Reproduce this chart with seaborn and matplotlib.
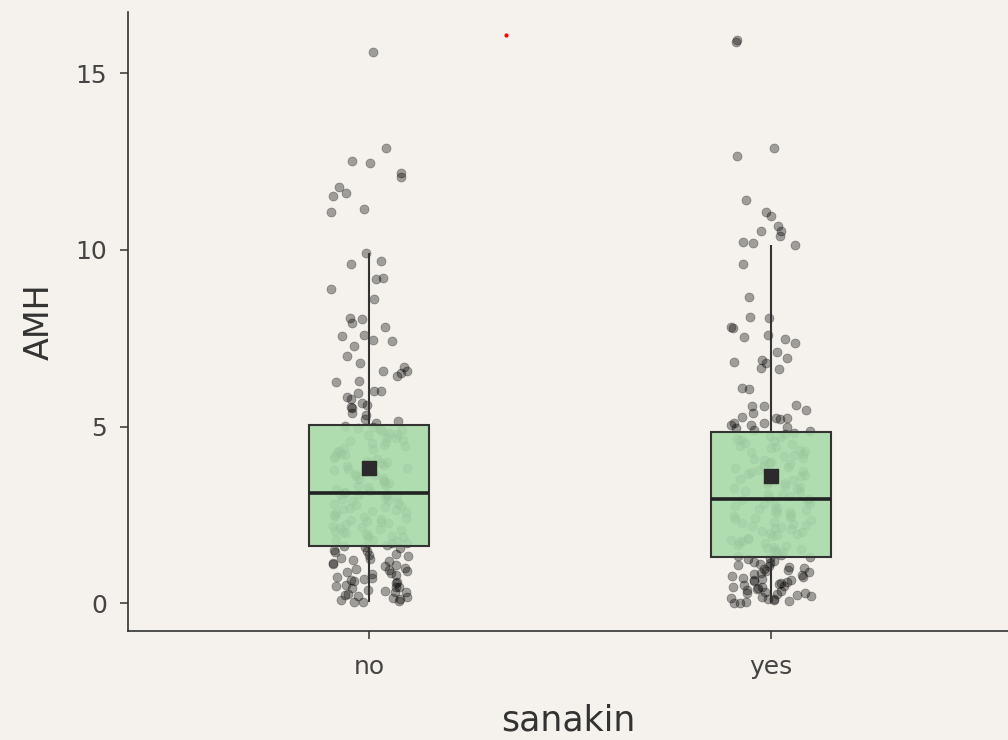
import numpy as np
import pandas as pd
import matplotlib
matplotlib.use("Agg")
import matplotlib.pyplot as plt
import seaborn as sns

categories = ["no", "yes"]

amh_no = [
    # above Q3
    15.6, 12.88, 12.5, 12.45, 12.17, 12.06, 11.77, 11.6, 11.52, 11.15, 11.07,
    9.9, 9.68, 9.6, 9.2, 9.17, 8.89, 8.6, 8.07, 8.04,
    7.93, 7.81, 7.59, 7.56, 7.44, 7.42, 7.27, 6.99, 6.79, 6.68,
    6.57, 6.57, 6.51, 6.42, 6.28, 6.26, 6.0, 6.0, 5.94, 5.83,
    5.66, 5.6, 5.55, 5.52, 5.32, 5.15, 5.09, 5.38, 5.78, 5.21,
    # median..Q3
    3.12, 3.16, 3.19, 3.24, 3.28, 3.31, 3.36, 3.4, 3.43, 3.47, 3.52, 3.55, 3.6,
    3.64, 3.67, 3.72, 3.76, 3.8, 3.83, 3.88, 3.91, 3.96, 4.0, 4.03, 4.08, 4.11,
    4.16, 4.2, 4.23, 4.28, 4.31, 4.36, 4.4, 4.44, 4.48, 4.52, 4.55, 4.6, 4.63,
    4.68, 4.71, 4.75, 4.79, 4.83, 4.86, 4.9, 4.93, 4.96, 4.99, 5.01,
    # Q1..median
    1.63, 1.66, 1.7, 1.71, 1.75, 1.78, 1.8, 1.84, 1.87, 1.9, 1.93, 1.95, 1.99,
    2.02, 2.05, 2.08, 2.1, 2.14, 2.17, 2.2, 2.23, 2.26, 2.3, 2.32, 2.35, 2.39,
    2.41, 2.45, 2.48, 2.5, 2.54, 2.57, 2.6, 2.63, 2.66, 2.7, 2.72, 2.76, 2.79,
    2.82, 2.85, 2.88, 2.92, 2.95, 2.98, 3.0, 3.03, 3.06, 3.08, 3.1,
    # below Q1
    0.03, 0.05, 0.07, 0.1, 0.12, 0.14, 0.18, 0.21, 0.24, 0.27, 0.31, 0.33, 0.36,
    0.38, 0.42, 0.45, 0.47, 0.5, 0.53, 0.57, 0.6, 0.62, 0.66, 0.69, 0.72, 0.75,
    0.79, 0.82, 0.86, 0.88, 0.91, 0.95, 0.98, 1.01, 1.05, 1.08, 1.12, 1.15, 1.19,
    1.22, 1.26, 1.29, 1.33, 1.36, 1.4, 1.44, 1.48, 1.52, 1.56, 1.6,
]

amh_yes = [
    # above Q3
    15.89, 15.92, 12.88, 12.65, 11.41, 11.07, 10.95, 10.67, 10.53, 10.53, 10.39,
    10.22, 10.2,
    10.13, 9.6, 8.66, 8.09, 8.07, 7.81, 7.78, 7.59, 7.53, 7.47,
    7.36, 7.1, 6.93, 6.88, 6.82, 6.79, 6.65, 6.62, 6.09, 6.06,
    5.6, 5.58, 5.58, 5.46, 5.38, 5.27, 5.24, 5.24, 5.2, 5.1,
    5.1, 5.04, 5.04, 5.0, 4.95, 4.9, 4.88,
    # median..Q3
    2.95, 2.99, 3.03, 3.07, 3.1, 3.14, 3.18, 3.22, 3.26, 3.29, 3.33, 3.37, 3.41,
    3.44, 3.48, 3.52, 3.56, 3.59, 3.63, 3.67, 3.71, 3.74, 3.78, 3.82, 3.86, 3.89,
    3.93, 3.97, 4.01, 4.04, 4.08, 4.12, 4.16, 4.19, 4.23, 4.27, 4.31, 4.34, 4.38,
    4.42, 4.46, 4.5, 4.54, 4.58, 4.62, 4.66, 4.7, 4.74, 4.79, 4.83,
    # Q1..median
    1.31, 1.34, 1.38, 1.41, 1.44, 1.47, 1.5, 1.53, 1.57, 1.6, 1.63, 1.66, 1.7,
    1.73, 1.76, 1.79, 1.83, 1.86, 1.89, 1.92, 1.96, 1.99, 2.02, 2.05, 2.09, 2.12,
    2.15, 2.18, 2.22, 2.25, 2.28, 2.31, 2.35, 2.38, 2.41, 2.44, 2.48, 2.51, 2.54,
    2.57, 2.61, 2.64, 2.67, 2.7, 2.74, 2.77, 2.8, 2.84, 2.88, 2.93,
    # below Q1
    0.0, 0.02, 0.04, 0.06, 0.09, 0.11, 0.13, 0.16, 0.18, 0.21, 0.23, 0.26, 0.28,
    0.3, 0.33, 0.35, 0.38, 0.4, 0.42, 0.45, 0.47, 0.5, 0.52, 0.55, 0.57, 0.6,
    0.62, 0.65, 0.67, 0.7, 0.72, 0.75, 0.77, 0.8, 0.83, 0.86, 0.88, 0.91, 0.94,
    0.97, 1.0, 1.03, 1.06, 1.09, 1.12, 1.15, 1.18, 1.21, 1.25, 1.28,
]

red_dot_x = [0.34]
red_dot_y = [16.08]

y_ticks = [0, 5, 10, 15]

df = pd.DataFrame({
    "sanakin": ["no"] * len(amh_no) + ["yes"] * len(amh_yes),
    "AMH": amh_no + amh_yes,
})

BG = "#f5f2ed"
sns.set_theme(style="ticks")
plt.rcParams["font.family"] = ["DejaVu Sans"]

fig = plt.figure(figsize=(10.08, 7.40), dpi=100, facecolor=BG)
ax = fig.add_axes([0.127, 0.147, 0.873, 0.837])
ax.set_facecolor(BG)

np.random.seed(3)
sns.stripplot(data=df, x="sanakin", y="AMH", order=categories, color="black",
              alpha=0.35, size=6.5, jitter=0.1, linewidth=0.5,
              edgecolor="black", zorder=1, ax=ax)

sns.boxplot(data=df, x="sanakin", y="AMH", order=categories, color="#a6dba8",
            saturation=1, width=0.3, showfliers=False, showmeans=True,
            linecolor="#333333", linewidth=1.5,
            medianprops=dict(color="#222222", linewidth=2.6),
            meanprops=dict(marker="s", markerfacecolor="#2b2b2b",
                           markeredgecolor="#2b2b2b", markersize=10),
            capprops=dict(linewidth=0), zorder=3, ax=ax)

for p in ax.patches:
    p.set_facecolor((0.66, 0.86, 0.665, 0.9))

ax.scatter(red_dot_x, red_dot_y, s=4, color="red", zorder=4)

ax.set_xlim(-0.6, 1.59)
ax.set_ylim(-0.79, 16.73)
ax.set_yticks(y_ticks)
ax.set_yticklabels([str(t) for t in y_ticks])

for s in ["top", "right"]:
    ax.spines[s].set_visible(False)
for s in ["left", "bottom"]:
    ax.spines[s].set_color("#333333")
    ax.spines[s].set_linewidth(1.2)

ax.tick_params(axis="both", colors="#333333", labelcolor="#444444",
               labelsize=18, length=6, width=1.1)
ax.tick_params(axis="x", pad=11)
ax.tick_params(axis="y", pad=9)
ax.set_xlabel("sanakin", fontsize=25, color="#333333", labelpad=18)
ax.set_ylabel("AMH", fontsize=24, color="#333333", labelpad=14)

fig.savefig("out.png", dpi=100, facecolor=BG)
